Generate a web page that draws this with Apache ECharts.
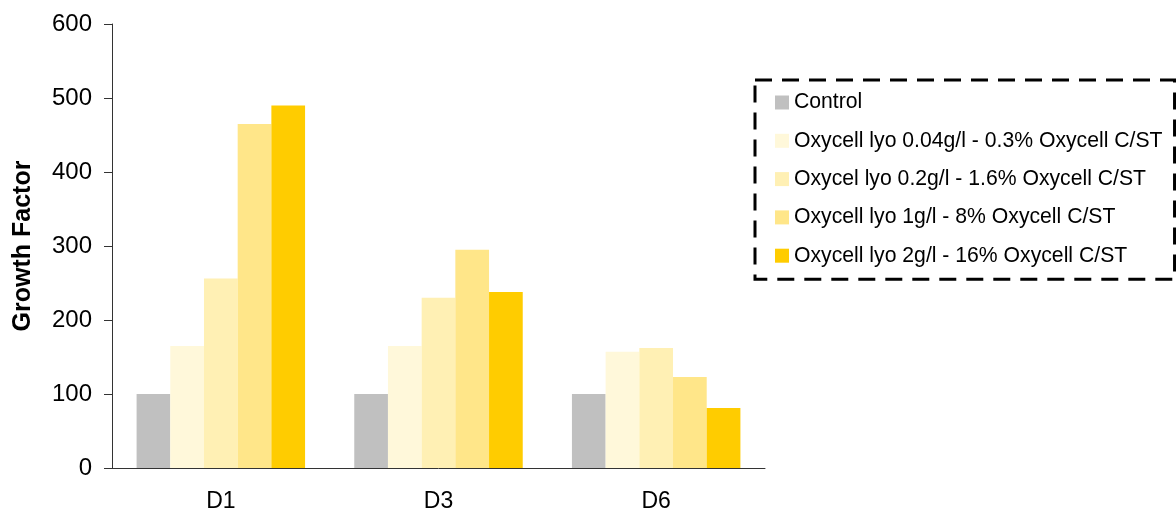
<!DOCTYPE html>
<html>
<head>
<meta charset="utf-8">
<title>Growth Factor</title>
<script src="https://cdn.jsdelivr.net/npm/echarts@6/dist/echarts.min.js"></script>
<style>
    html, body {
        margin: 0;
        padding: 0;
        background: #fff;
    }

    #chart {
        width: 1176px;
        height: 515px;
    }
</style>
</head>
<body>
<div id="chart"></div>
<script>
const categories = ["D1", "D3", "D6"];
const seriesNames = [
    "Control",
    "Oxycell lyo 0.04g/l - 0.3% Oxycell C/ST",
    "Oxycel lyo 0.2g/l - 1.6% Oxycell C/ST",
    "Oxycell lyo 1g/l - 8% Oxycell C/ST",
    "Oxycell lyo 2g/l - 16% Oxycell C/ST",
];
const seriesColors = ["#C0C0C0", "#FFF8DA", "#FFF0B4", "#FFE689", "#FFCC00"];

/** Control */
const control = [100, 100, 100];
/** 0.04g/l */
const lyo004 = [165, 165, 157];
/** 0.2g/l */
const lyo02 = [256, 230, 162];
/** 1g/l */
const lyo1 = [465, 295, 123];
/** 2g/l */
const lyo2 = [490, 238, 81];

const yTicks = { min: 0, max: 600, interval: 100 };

const seriesValues = [control, lyo004, lyo02, lyo1, lyo2];
const fontFamily = "'Liberation Sans', Arial, sans-serif";

const option = {
    animation: false,
    textStyle: {
        fontFamily: fontFamily,
    },
    grid: {
        left: 112,
        right: 411,
        top: 24,
        bottom: 47,
    },
    legend: {
        orient: "vertical",
        left: 755,
        top: 80,
        padding: [12, 12, 13, 20],
        itemWidth: 14,
        itemHeight: 14,
        itemGap: 17.3,
        icon: "rect",
        borderColor: "#000",
        borderWidth: 3,
        borderType: [17, 10],
        textStyle: {
            fontFamily: fontFamily,
            fontSize: 21.2,
            color: "#000",
        },
        data: seriesNames,
    },
    xAxis: {
        type: "category",
        data: categories,
        axisLine: {
            lineStyle: { color: "#333", width: 1 },
        },
        axisTick: {
            length: 8,
            lineStyle: { color: "#333" },
        },
        axisLabel: {
            margin: 22,
            fontSize: 23,
            color: "#000",
        },
    },
    yAxis: {
        type: "value",
        min: yTicks.min,
        max: yTicks.max,
        interval: yTicks.interval,
        name: "Growth Factor",
        nameLocation: "middle",
        nameRotate: 90,
        nameGap: 76,
        nameTextStyle: {
            fontSize: 25,
            fontWeight: "bold",
            color: "#000",
        },
        axisLine: {
            show: true,
            lineStyle: { color: "#333", width: 1 },
        },
        axisTick: {
            show: true,
            length: 8,
            lineStyle: { color: "#333" },
        },
        axisLabel: {
            margin: 20,
            fontSize: 24,
            color: "#000",
        },
        splitLine: { show: false },
    },
    series: seriesNames.map((name, i) => ({
        name: name,
        type: "bar",
        barGap: "0%",
        barCategoryGap: "22.6%",
        itemStyle: { color: seriesColors[i] },
        data: seriesValues[i],
    })),
};

const chart = echarts.init(document.getElementById("chart"));
chart.setOption(option);
</script>
</body>
</html>
